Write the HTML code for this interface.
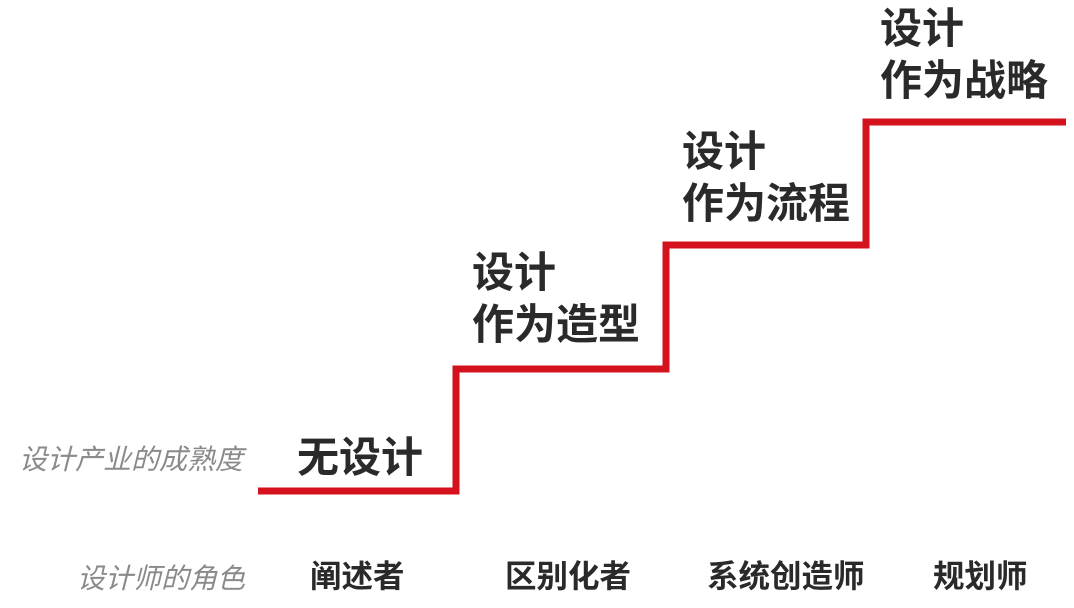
<!DOCTYPE html>
<html><head><meta charset="utf-8"><style>
body{margin:0;width:1074px;height:608px;background:#fff;position:relative;overflow:hidden;font-family:"Liberation Sans","Noto Sans CJK SC",sans-serif}
.t{position:absolute;font-size:42px;font-weight:bold;color:#2a2a2a;line-height:42px;white-space:nowrap}
.g{position:absolute;font-size:28px;font-style:italic;color:#8a8a8a;line-height:28px;white-space:nowrap}
.b{position:absolute;font-size:31.5px;font-weight:bold;color:#2a2a2a;line-height:32px;white-space:nowrap}
</style></head><body>
<svg width="1074" height="608" style="position:absolute;left:0;top:0">
<polyline points="258,491 456,491 456,369 666,369 666,245 866,245 866,122 1066,122" fill="none" stroke="#d4121e" stroke-width="7"/>
</svg>
<div class="t" style="left:297px;top:437px">无设计</div>
<div class="t" style="left:472px;top:252px">设计</div>
<div class="t" style="left:472px;top:304px">作为造型</div>
<div class="t" style="left:682px;top:131px">设计</div>
<div class="t" style="left:682px;top:183px">作为流程</div>
<div class="t" style="left:880px;top:8px">设计</div>
<div class="t" style="left:880px;top:60px">作为战略</div>
<div class="g" style="left:19px;top:446px">设计产业的成熟度</div>
<div class="g" style="left:77px;top:565px">设计师的角色</div>
<div class="b" style="left:310px;top:560px">阐述者</div>
<div class="b" style="left:505px;top:560px">区别化者</div>
<div class="b" style="left:707px;top:560px">系统创造师</div>
<div class="b" style="left:933px;top:560px">规划师</div>
</body></html>
